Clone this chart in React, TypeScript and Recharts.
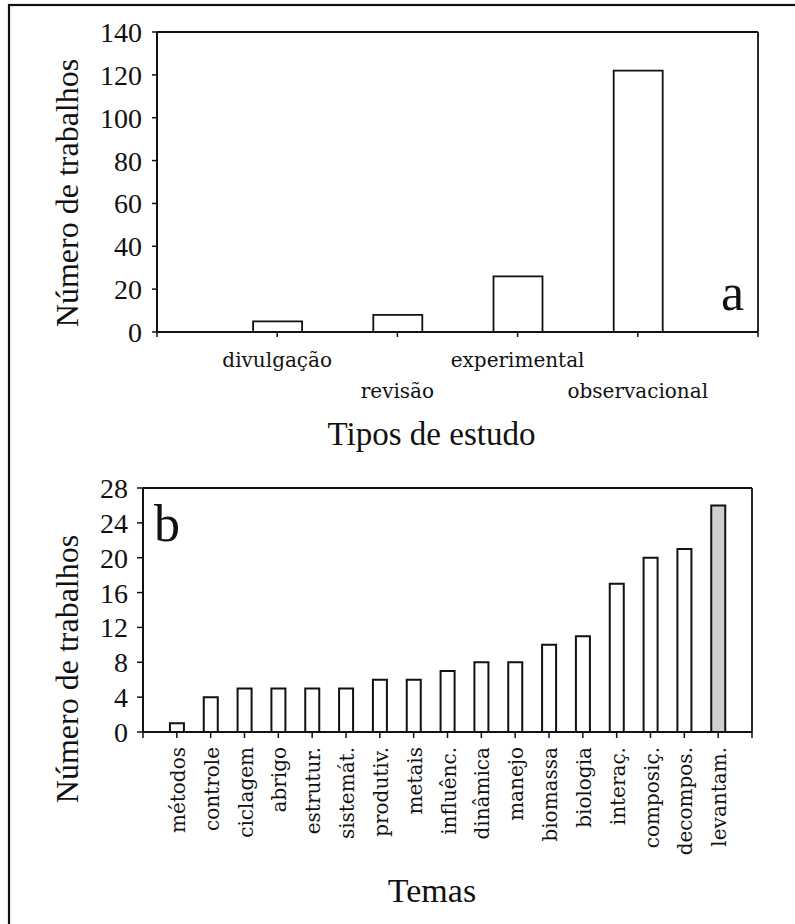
import React from 'react';
import { BarChart, Bar, XAxis, YAxis, ReferenceLine, Cell } from 'recharts';

// ---- Data: panel a ----
const studyTypes = ['divulgação', 'revisão', 'experimental', 'observacional'];
const studyCounts = [5, 8, 26, 122];
const studyYTicks = [0, 20, 40, 60, 80, 100, 120, 140];

// ---- Data: panel b ----
const themes = [
  'métodos', 'controle', 'ciclagem', 'abrigo', 'estrutur.', 'sistemát.', 'produtiv.',
  'metais', 'influênc.', 'dinâmica', 'manejo', 'biomassa', 'biologia', 'interaç.',
  'composiç.', 'decompos.', 'levantam.',
];
const themeCounts = [1, 4, 5, 5, 5, 5, 6, 6, 7, 8, 8, 10, 11, 17, 20, 21, 26];
const themeYTicks = [0, 4, 8, 12, 16, 20, 24, 28];

const yTitle = 'Número de trabalhos';
const xTitleA = 'Tipos de estudo';
const xTitleB = 'Temas';

const dataA = studyTypes.map((name, i) => ({ pos: i + 1, name, value: studyCounts[i] }));
const ticksA = Array.from({ length: studyTypes.length + 2 }, (_, i) => i);
const dataB = themes.map((name, i) => ({ pos: i + 1, name, value: themeCounts[i] }));
const ticksB = Array.from({ length: themes.length + 2 }, (_, i) => i);

const SERIF = "'Liberation Serif', 'Times New Roman', serif";
const WIDE = "'DejaVu Serif', serif";
const INK = '#111';

const TickA = (props: any) => {
  const { x, y, payload } = props;
  const v = payload.value;
  const label = studyTypes[v - 1];
  if (!label) return null;
  const dy = v % 2 === 1 ? 30 : 61;
  return (
    <text x={x} y={y} dy={dy} textAnchor="middle" fontFamily={WIDE} fontSize={20} fill={INK}>
      {label}
    </text>
  );
};

const TickB = (props: any) => {
  const { x, y, payload } = props;
  const label = themes[payload.value - 1];
  if (!label) return null;
  const yy = y + 9;
  return (
    <text
      x={x}
      y={yy}
      dy={8}
      transform={`rotate(-90 ${x} ${yy})`}
      textAnchor="end"
      fontFamily={WIDE}
      fontSize={20}
      fill={INK}
    >
      {label}
    </text>
  );
};

export default function App() {
  return (
    <div
      style={{
        position: 'absolute',
        left: 0,
        top: 0,
        width: 795,
        height: 924,
        overflow: 'hidden',
        background: '#fff',
      }}
    >
      <div style={{ position: 'absolute', left: 0, top: 0 }}>
        <BarChart width={795} height={460} data={dataA} margin={{ top: 32, right: 37, left: 0, bottom: 0 }}>
          <XAxis
            dataKey="pos"
            type="number"
            domain={[0, studyTypes.length + 1]}
            ticks={ticksA}
            interval={0}
            tick={<TickA />}
            tickSize={5}
            tickMargin={0}
            height={128}
            axisLine={{ stroke: INK, strokeWidth: 2 }}
            tickLine={{ stroke: INK, strokeWidth: 1.5 }}
            allowDataOverflow
          />
          <YAxis
            type="number"
            domain={[0, 140]}
            ticks={studyYTicks}
            interval={0}
            width={157}
            tickSize={5}
            tickMargin={10}
            tick={{ fontFamily: SERIF, fontSize: 28, fill: INK }}
            axisLine={{ stroke: INK, strokeWidth: 2 }}
            tickLine={{ stroke: INK, strokeWidth: 1.5 }}
            allowDataOverflow
          />
          <ReferenceLine y={140} stroke={INK} strokeWidth={1.8} />
          <ReferenceLine x={studyTypes.length + 1} stroke={INK} strokeWidth={1.8} />
          <Bar dataKey="value" barSize={49} fill="#fff" stroke={INK} strokeWidth={1.8} isAnimationActive={false} />
        </BarChart>
      </div>

      <div style={{ position: 'absolute', left: 0, top: 460 }}>
        <BarChart width={795} height={464} data={dataB} margin={{ top: 28, right: 43, left: 0, bottom: 0 }}>
          <XAxis
            dataKey="pos"
            type="number"
            domain={[0, themes.length + 1]}
            ticks={ticksB}
            interval={0}
            tick={<TickB />}
            tickSize={6}
            tickMargin={0}
            height={192}
            axisLine={{ stroke: INK, strokeWidth: 2 }}
            tickLine={{ stroke: INK, strokeWidth: 1.5 }}
            allowDataOverflow
          />
          <YAxis
            type="number"
            domain={[0, 28]}
            ticks={themeYTicks}
            interval={0}
            width={143}
            tickSize={6}
            tickMargin={9}
            tick={{ fontFamily: SERIF, fontSize: 28, fill: INK }}
            axisLine={{ stroke: INK, strokeWidth: 2 }}
            tickLine={{ stroke: INK, strokeWidth: 1.5 }}
            allowDataOverflow
          />
          <ReferenceLine y={28} stroke={INK} strokeWidth={1.8} />
          <ReferenceLine x={themes.length + 1} stroke={INK} strokeWidth={1.8} />
          <Bar dataKey="value" barSize={14} fill="#fff" stroke={INK} strokeWidth={2} isAnimationActive={false}>
            {dataB.map((d, i) => (
              <Cell key={d.name} fill={i === dataB.length - 1 ? '#cfcfcf' : '#fff'} />
            ))}
          </Bar>
        </BarChart>
      </div>

      <svg
        width={795}
        height={924}
        style={{ position: 'absolute', left: 0, top: 0, pointerEvents: 'none' }}
      >
        <rect x={9} y={5} width={820} height={940} fill="none" stroke={INK} strokeWidth={2.2} />
        <text x={78} y={193} transform="rotate(-90 78 193)" textAnchor="middle" fontFamily={SERIF} fontSize={32} fill={INK}>
          {yTitle}
        </text>
        <text x={431.5} y={445} textAnchor="middle" fontFamily={SERIF} fontSize={33} fill={INK}>
          {xTitleA}
        </text>
        <text x={721} y={310} fontFamily={SERIF} fontSize={52} fill={INK}>a</text>

        <text x={78} y={669} transform="rotate(-90 78 669)" textAnchor="middle" fontFamily={SERIF} fontSize={32} fill={INK}>
          {yTitle}
        </text>
        <text x={432} y={902} textAnchor="middle" fontFamily={SERIF} fontSize={34} fill={INK}>
          {xTitleB}
        </text>
        <text x={154} y={541} fontFamily={SERIF} fontSize={52} fill={INK}>b</text>
      </svg>
    </div>
  );
}
